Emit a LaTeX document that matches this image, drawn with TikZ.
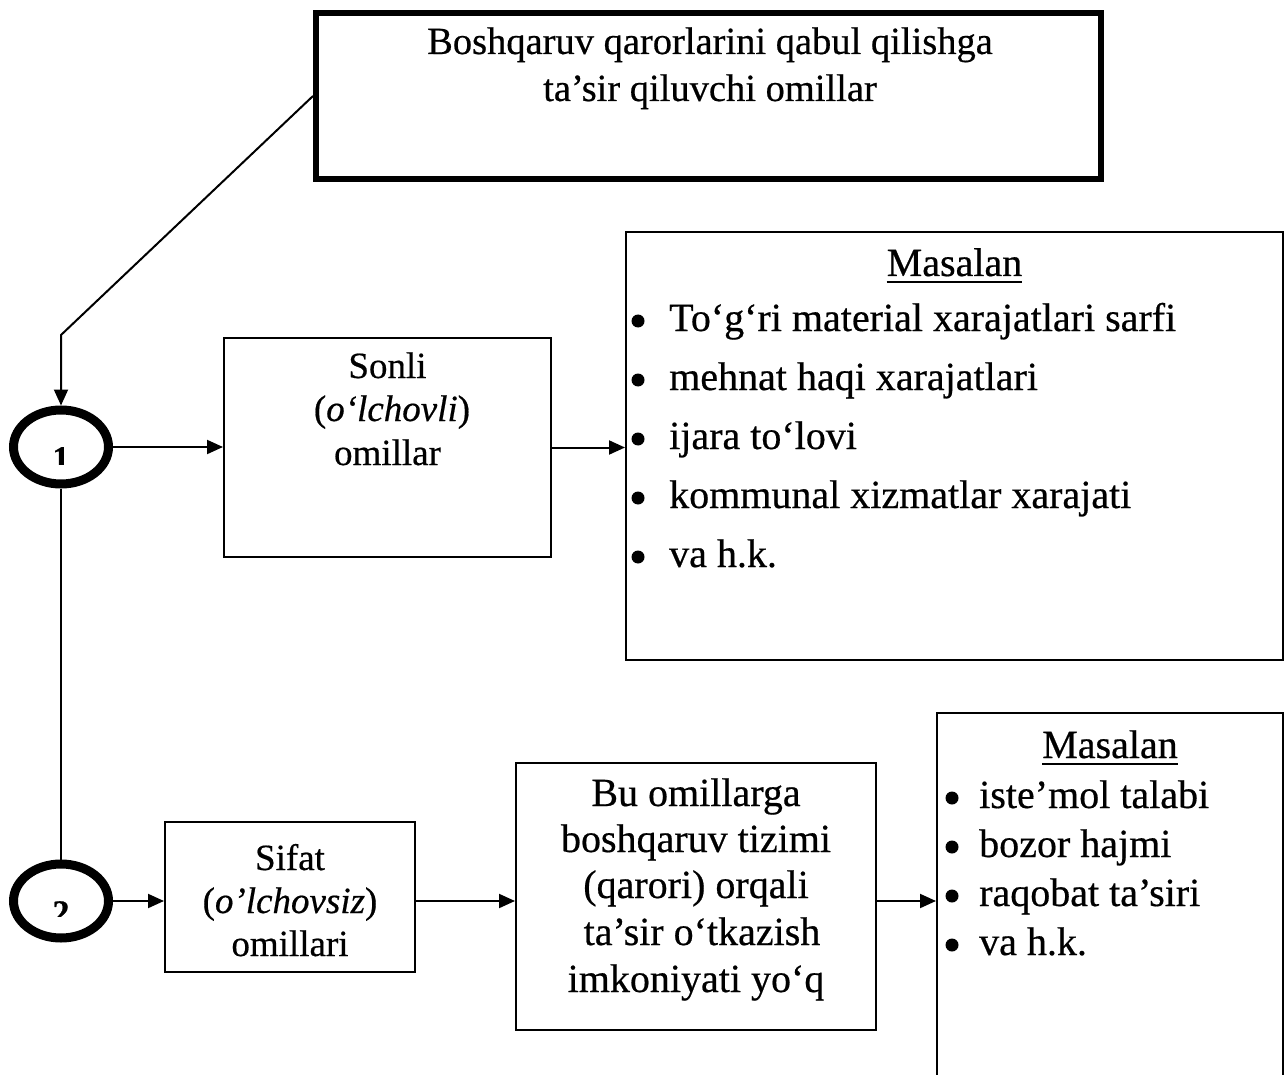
\documentclass[tikz,border=0pt]{standalone}
\usepackage{fontspec}
\setmainfont{Liberation Serif}[FakeBold=0.5]
\usetikzlibrary{arrows.meta,shapes.geometric}

\begin{document}
\begin{tikzpicture}[x=1pt,y=-1pt,
  box/.style={draw, line width=2pt, inner sep=0pt, rectangle},
  ring/.style={ellipse, draw, line width=9pt, minimum width=95, minimum height=74, inner sep=0pt},
  digit/.style={inner sep=0pt, anchor=north, font=\fontsize{34}{34}\selectfont\bfseries},
  txt/.style={inner sep=0pt, anchor=base, font=\fontsize{40}{48}\selectfont},
  txtm/.style={inner sep=0pt, anchor=base, font=\fontsize{37}{44}\selectfont},
  txtt/.style={inner sep=0pt, anchor=base, font=\fontsize{38.5}{46}\selectfont},
  item/.style={inner sep=0pt, anchor=base west, font=\fontsize{40}{48}\selectfont},
  conn/.style={line width=2pt},
  arr/.style={line width=2pt, -{Triangle[length=16pt,width=14pt]}},
  dot/.style={fill=black}]

\useasboundingbox (0,0) rectangle (1285,1075);

% heading box
\node[box, line width=6pt, minimum width=785, minimum height=166] (top) at (708.5,96) {};
\node[txtt] (top1) at (710,54) {Boshqaruv qarorlarini qabul qilishga};
\node[txtt] (top2) at (710,101) {ta’sir qiluvchi omillar};

% numbered rings
\node[ring] (c1) at (61,447) {};
\node[ring] (c2) at (61,901) {};
\begin{scope}
  \clip (20,440) rectangle (105,464);
  \node[digit] (n1) at (61,447) {1};
\end{scope}
\begin{scope}
  \clip (20,895) rectangle (105,916);
  \node[digit] (n2) at (61,901) {2};
\end{scope}

% quantitative branch
\node[box, minimum width=327, minimum height=219] (sonli) at (387.5,447.5) {};
\node[txtm] (s1) at (387.5,378) {Sonli};
\node[txtm] (s2) at (392,421) {(\textit{o‘lchovli})};
\node[txtm] (s3) at (387.5,465) {omillar};

\node[box, minimum width=657, minimum height=428] (mas1) at (954.5,446) {};
\node[txt] (m1) at (954.5,276) {Masalan};
\draw[line width=2pt] ([yshift=-6pt]m1.base west) -- ([yshift=-6pt]m1.base east);
\node[item] (a1) at (669,331) {To‘g‘ri material xarajatlari sarfi};
\node[item] (a2) at (669,390) {mehnat haqi xarajatlari};
\node[item] (a3) at (669,449) {ijara to‘lovi};
\node[item] (a4) at (669,508) {kommunal xizmatlar xarajati};
\node[item] (a5) at (669,567) {va h.k.};
\foreach \yy in {331,390,449,508,567} \fill[dot] (638,\yy-10) circle[radius=6.5];

% qualitative branch
\node[box, minimum width=250, minimum height=150] (sifat) at (290,897) {};
\node[txtm] (f1) at (290,870) {Sifat};
\node[txtm] (f2) at (290,913) {(\textit{o’lchovsiz})};
\node[txtm] (f3) at (290,956) {omillari};

\node[box, minimum width=360, minimum height=267] (mid) at (696,896.5) {};
\node[txt] (d1) at (696,806) {Bu omillarga};
\node[txt] (d2) at (696,852) {boshqaruv tizimi};
\node[txt] (d3) at (696,898) {(qarori) orqali};
\node[txt] (d4) at (702,945) {ta’sir o‘tkazish};
\node[txt] (d5) at (696,992) {imkoniyati yo‘q};

\node[box, minimum width=346, minimum height=365] (mas2) at (1110,895.5) {};
\node[txt] (m2) at (1110,758) {Masalan};
\draw[line width=2pt] ([yshift=-6pt]m2.base west) -- ([yshift=-6pt]m2.base east);
\node[item] (b1) at (979,808) {iste’mol talabi};
\node[item] (b2) at (979,857) {bozor hajmi};
\node[item] (b3) at (979,906) {raqobat ta’siri};
\node[item] (b4) at (979,955) {va h.k.};
\foreach \yy in {808,857,906,955} \fill[dot] (952,\yy-10) circle[radius=6.5];

% connectors
\coordinate (bend) at (61,335);
\draw[arr] (top.west) -- (bend) -- (c1.north);
\draw[conn] (c1.south) -- (c2.north);
\draw[arr] (c1.east) -- (c1.east -| sonli.west);
\draw[arr] (sonli.east) -- (sonli.east -| mas1.west);
\draw[arr] (c2.east) -- (c2.east -| sifat.west);
\draw[arr] (c2.east -| sifat.east) -- (c2.east -| mid.west);
\draw[arr] (c2.east -| mid.east) -- (c2.east -| mas2.west);
\end{tikzpicture}
\end{document}
